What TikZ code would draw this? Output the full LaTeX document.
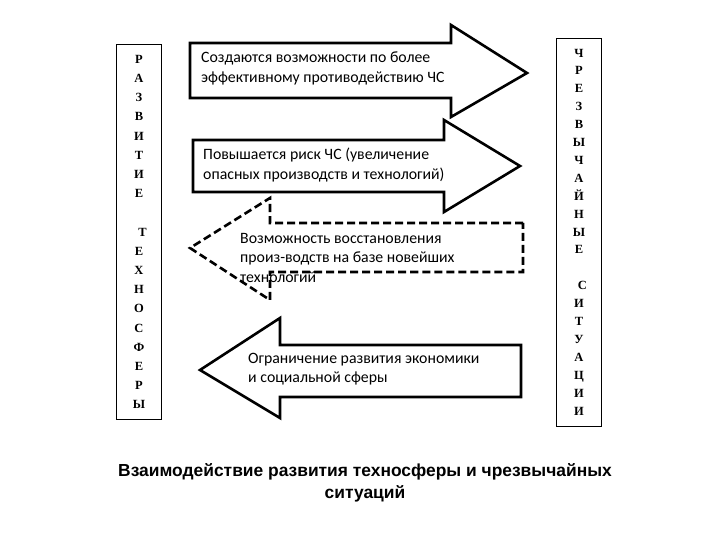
\documentclass[tikz,border=0pt]{standalone}
\usepackage{fontspec}
\setmainfont{Liberation Serif}
\newfontfamily\calib{Carlito}
\newfontfamily\arialf{Liberation Sans}

\begin{document}
\begin{tikzpicture}[x=1pt, y=-1pt,
    col/.style = {draw, line width=0.8pt, minimum width=45pt, inner sep=0pt, align=center, font=\bfseries\fontsize{12.5}{19.2}\selectfont},
    blk/.style = {draw, fill=white, line width=2.6pt, line join=miter},
    dblk/.style = {blk, dash pattern=on 8pt off 4pt},
    txt/.style = {anchor=north west, align=left, inner sep=0pt, font=\calib\fontsize{15.8}{19.5}\selectfont}]
\useasboundingbox (0,0) rectangle (720,540);
% columns
\node[col, minimum height=375pt] (razv) at (139,232)
  {Р\\А\\З\\В\\И\\Т\\И\\Е\\[19.2pt]\hspace*{7pt}Т\\Е\\Х\\Н\\О\\С\\Ф\\Е\\Р\\Ы};
\node[col, minimum height=388pt, font=\bfseries\fontsize{12.5}{17.9}\selectfont] (chs) at (579,232)
  {Ч\\Р\\Е\\З\\В\\Ы\\Ч\\А\\Й\\Н\\Ы\\Е\\[17.9pt]\hspace*{7pt}С\\И\\Т\\У\\А\\Ц\\И\\И};
% arrows
\draw[blk] (190,43) -- (451,43) -- (451,25) -- (527,73) -- (451,117) -- (451,98) -- (190,98) -- cycle;
\draw[blk] (193,140) -- (444,140) -- (444,120) -- (520,166) -- (444,212) -- (444,192) -- (193,192) -- cycle;
\draw[dblk] (523,223) -- (270,223) -- (270,198) -- (190,248) -- (270,300) -- (270,272) -- (523,272) -- cycle;
\draw[blk] (521,345) -- (280,345) -- (280,318) -- (200,370) -- (280,418) -- (280,397) -- (521,397) -- cycle;
% texts
\node[txt] (t1) at (201,52) {Создаются возможности по более\\эффективному противодействию ЧС};
\node[txt] (t2) at (203,148) {Повышается риск ЧС (увеличение\\опасных производств и технологий)};
\node[txt] (t3) at (240,233) {Возможность восстановления\\произ-водств на базе новейших\\технологий};
\node[txt] (t4) at (248,353) {Ограничение развития экономики\\и социальной сферы};
% title
\node[align=center, font=\arialf\bfseries\fontsize{17.4}{22}\selectfont] (title) at (365,483)
  {Взаимодействие развития техносферы и чрезвычайных\\ситуаций};
\end{tikzpicture}
\end{document}
